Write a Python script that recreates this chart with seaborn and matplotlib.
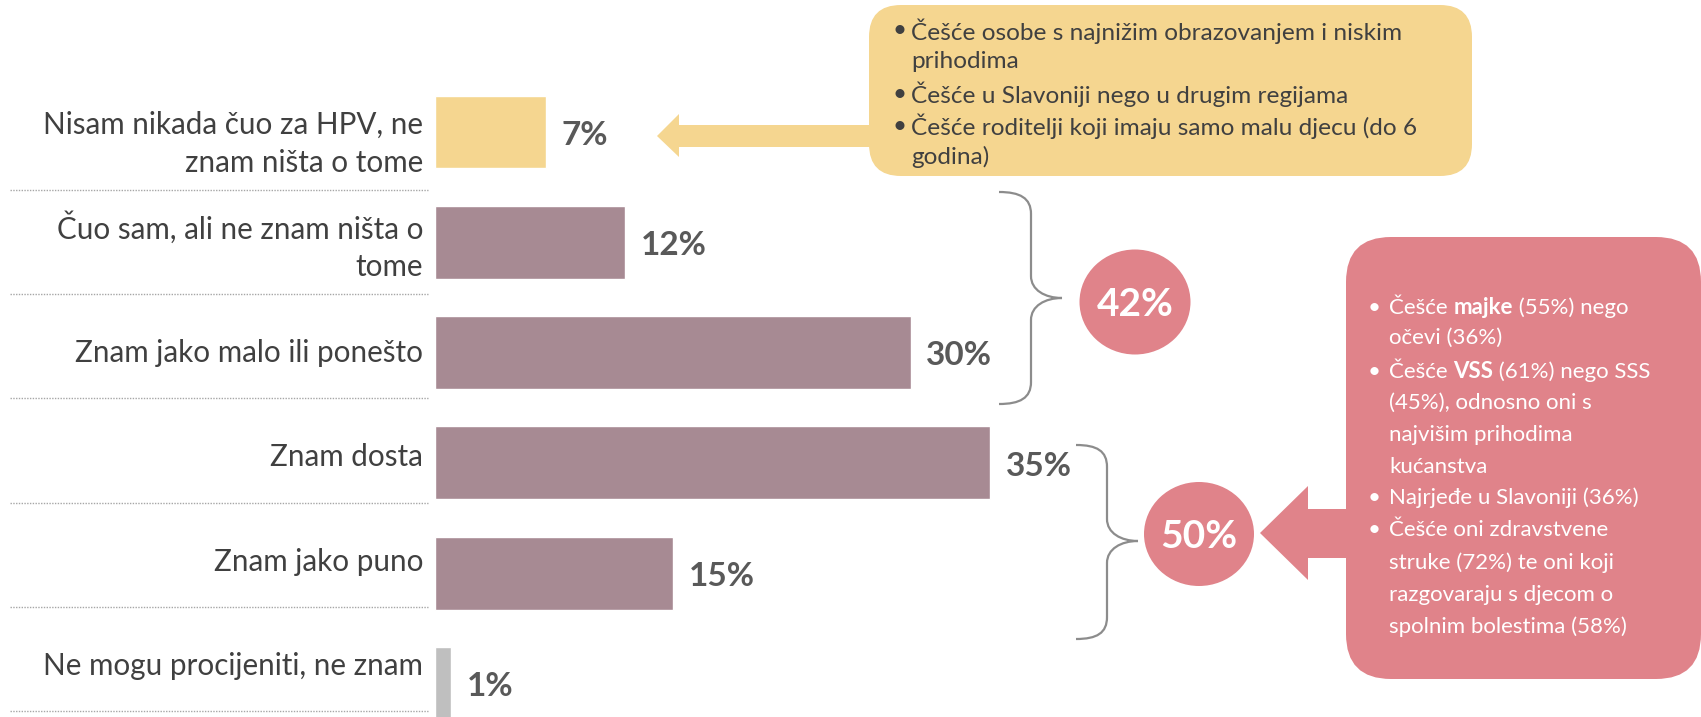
import pandas as pd
import seaborn as sns
import matplotlib.pyplot as plt
from matplotlib.patches import FancyBboxPatch, Polygon, Ellipse, PathPatch
from matplotlib.path import Path

# podaci
odgovori = ['Nisam nikada čuo za HPV, ne\nznam ništa o tome',
            'Čuo sam, ali ne znam ništa o\ntome',
            'Znam jako malo ili ponešto',
            'Znam dosta',
            'Znam jako puno',
            'Ne mogu procijeniti, ne znam']
postotci = [7, 12, 30, 35, 15, 1]
boje = ['#F5D690', '#A78A93', '#A78A93', '#A78A93', '#A78A93', '#BFBFBF']
zbirovi = ['42%', '50%']

zuti_tekst = [('•', 'Češće osobe s najnižim obrazovanjem i niskim'),
              ('', 'prihodima'),
              ('•', 'Češće u Slavoniji nego u drugim regijama'),
              ('•', 'Češće roditelji koji imaju samo malu djecu (do 6'),
              ('', 'godina)')]
rozi_tekst = [('•', [('Češće ', 'normal'), ('majke', 'bold'), (' (55%) nego', 'normal')]),
              ('', [('očevi (36%)', 'normal')]),
              ('•', [('Češće ', 'normal'), ('VSS', 'bold'), (' (61%) nego SSS', 'normal')]),
              ('', [('(45%), odnosno oni s', 'normal')]),
              ('', [('najvišim prihodima', 'normal')]),
              ('', [('kućanstva', 'normal')]),
              ('•', [('Najrjeđe u Slavoniji (36%)', 'normal')]),
              ('•', [('Češće oni zdravstvene', 'normal')]),
              ('', [('struke (72%) te oni koji', 'normal')]),
              ('', [('razgovaraju s djecom o', 'normal')]),
              ('', [('spolnim bolestima (58%)', 'normal')])]

sns.set_style('white')
plt.rcParams['font.family'] = ['Lato', 'DejaVu Sans']

W, H = 1701, 717
fig = plt.figure(figsize=(W / 100, H / 100), dpi=100)

# stupci
ax = fig.add_axes([435 / W, 0, (W - 435) / W, (H - 76.85) / H])
df = pd.DataFrame({'odgovor': odgovori, 'postotak': postotci})
sns.barplot(data=df, x='postotak', y='odgovor', hue='odgovor', palette=boje,
            legend=False, width=0.66, orient='h', saturation=1, ax=ax)
ax.set_xlim(0, (W - 435) / 15.85)
ax.set_ylim(5.304, -0.5)
ax.axis('off')
for i, v in enumerate(postotci):
    ax.text(v + 1.0, i + 0.03, f'{v}%', va='center', ha='left',
            fontsize=24, fontweight='bold', color='#595959')

# sloj za opise (pikseli)
ov = fig.add_axes([0, 0, 1, 1])
ov.set_xlim(0, W)
ov.set_ylim(H, 0)
ov.axis('off')
r = fig.canvas.get_renderer()

crte = [190, 294, 398, 503, 607, 711]
sredine = [144, 246] + [(a + b) / 2 + 7 for a, b in zip(crte[1:-1], crte[2:])]
for y in crte:
    ov.plot([10, 428], [y, y], color='#A6A6A6', lw=1, ls=(0, (1, 1)))
for y, t in zip(sredine, odgovori):
    ov.text(423, y, t, ha='right', va='center', fontsize=21.3, color='#404040',
            linespacing=1.42)

# zuti okvir sa strelicom
ov.add_patch(Polygon([(657, 136), (679, 114), (679, 125), (875, 125), (875, 147),
                      (679, 147), (679, 157)], closed=True, fc='#F5D690', ec='none'))
ov.add_patch(FancyBboxPatch((869, 5), 603, 171, boxstyle='round,pad=0,rounding_size=32',
                            fc='#F5D690', ec='none'))
for (b, t), y in zip(zuti_tekst, [31, 62, 94, 126, 157]):
    if b:
        ov.text(892, y, b, va='center', fontsize=17.6, color='#404040')
    ov.text(911, y, t, va='center', fontsize=17.6, color='#404040')

# rozi okvir sa strelicom
ov.add_patch(Polygon([(1260, 533), (1308, 486), (1308, 509), (1350, 509), (1350, 558),
                      (1308, 558), (1308, 580)], closed=True, fc='#E0838A', ec='none'))
ov.add_patch(FancyBboxPatch((1346, 237), 355, 442, boxstyle='round,pad=0,rounding_size=45',
                            fc='#E0838A', ec='none'))


def sirina(s, **kw):
    a = ov.text(0, 0, s + 'I', **kw)
    b = ov.text(0, 0, 'I', **kw)
    w = a.get_window_extent(r).width - b.get_window_extent(r).width
    a.remove()
    b.remove()
    return w


rozi_y = [308, 338, 372, 403, 435, 467, 498, 530, 563, 595, 627]
for (b, dijelovi), y in zip(rozi_tekst, rozi_y):
    if b:
        ov.text(1368, y, b, va='center', fontsize=16, color='white')
    x = 1389
    for t, tezina in dijelovi:
        ov.text(x, y, t, va='center', fontsize=16, color='white', fontweight=tezina)
        x += sirina(t, fontsize=16, fontweight=tezina)

# zagrade
def zagrada(x0, xm, xt, y0, yt, y1):
    v = [(x0, y0), (x0 + 21, y0), (xm, y0 + 6), (xm, y0 + 22),
         (xm, yt - 22),
         (xm, yt - 8), (xm + 14, yt), (xt, yt),
         (xm + 14, yt), (xm, yt + 8), (xm, yt + 22),
         (xm, y1 - 22),
         (xm, y1 - 6), (x0 + 21, y1), (x0, y1)]
    k = [Path.MOVETO, Path.CURVE4, Path.CURVE4, Path.CURVE4, Path.LINETO,
         Path.CURVE4, Path.CURVE4, Path.CURVE4, Path.CURVE4, Path.CURVE4, Path.CURVE4,
         Path.LINETO, Path.CURVE4, Path.CURVE4, Path.CURVE4]
    ov.add_patch(PathPatch(Path(v, k), fc='none', ec='#8C8C8C', lw=1.6))


zagrada(999, 1031, 1062, 192, 298, 404)
zagrada(1076, 1107, 1138, 445, 541, 639)

# krugovi sa zbirovima
for (cx, cy, w, h), t in zip([(1135, 302, 111, 105), (1199, 534, 110, 104)], zbirovi):
    ov.add_patch(Ellipse((cx, cy), w, h, fc='#E0838A', ec='none'))
    ov.text(cx, cy + 2, t, ha='center', va='center', fontsize=28, fontweight='bold',
            color='white')

fig.savefig('out.png', dpi=100)
